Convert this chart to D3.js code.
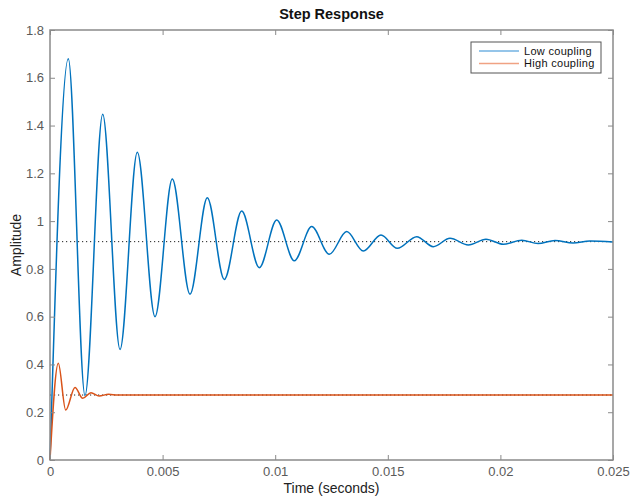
<!DOCTYPE html>
<html>
<head>
<meta charset="utf-8">
<script src="https://cdn.jsdelivr.net/npm/d3@7/dist/d3.min.js"></script>
<style>
  html, body { margin: 0; padding: 0; background: #fff; }
  svg { display: block; font-family: "Liberation Sans", Arial, Helvetica, sans-serif; }
</style>
</head>
<body>
<svg id="chart" width="630" height="496"></svg>
<script>
// ---- data ----
const lowT = [0, 0.000813, 0.001554, 0.00234, 0.00311, 0.003877, 0.004663, 0.005431, 0.006217,
  0.006985, 0.00774, 0.008512, 0.009294, 0.010067, 0.010848, 0.011621, 0.012402, 0.013175,
  0.013912, 0.014698, 0.015422, 0.016283, 0.01702, 0.017762, 0.018575, 0.01936, 0.02013,
  0.020946, 0.02167, 0.022425, 0.023224, 0.023979, 0.025];
const lowV = [0, 1.68, 0.27, 1.447, 0.463, 1.288, 0.600, 1.176, 0.694,
  1.098, 0.756, 1.042, 0.805, 1.005, 0.834, 0.977, 0.861, 0.956,
  0.875, 0.942, 0.886, 0.935, 0.893, 0.928, 0.900, 0.924, 0.903,
  0.920, 0.906, 0.919, 0.908, 0.917, 0.913];
const highT = [0, 0.000369, 0.000697, 0.00111, 0.001452, 0.00182, 0.00218, 0.0026, 0.003, 0.025];
const highV = [0, 0.405, 0.209, 0.304, 0.258, 0.282, 0.268, 0.275, 0.272, 0.272];
const steadyLow = 0.914;
const steadyHigh = 0.272;
const seriesNames = ["Low coupling", "High coupling"];
const seriesColors = ["#0072BD", "#D95319"];
const legendColors = ["#72B2E2", "#F0A283"];
const xTicks = [0, 0.005, 0.01, 0.015, 0.02, 0.025];
const xTickLabels = ["0", "0.005", "0.01", "0.015", "0.02", "0.025"];
const yTicks = [0, 0.2, 0.4, 0.6, 0.8, 1, 1.2, 1.4, 1.6, 1.8];
const yTickLabels = ["0", "0.2", "0.4", "0.6", "0.8", "1", "1.2", "1.4", "1.6", "1.8"];

// ---- layout ----
const svg = d3.select("#chart");
const L = 50, T = 30, W = 563, H = 430;
const x = d3.scaleLinear().domain([0, 0.025]).range([L, L + W]);
const y = d3.scaleLinear().domain([0, 1.8]).range([T + H, T]);
const axisColor = "#8a8a8a";
const textColor = "#5a5a5a";

// steady-state dotted lines
[steadyLow, steadyHigh].forEach(v => {
  svg.append("line")
    .attr("x1", x(0)).attr("x2", x(0.025))
    .attr("y1", y(v)).attr("y2", y(v))
    .attr("stroke", "#222").attr("stroke-width", 1)
    .attr("stroke-dasharray", "1.2,2.8");
});

const line = d3.line().curve(d3.curveMonotoneX);
const lowPts = lowT.map((t, i) => [x(t), y(lowV[i])]);
const highPts = highT.map((t, i) => [x(t), y(highV[i])]);

svg.append("path").attr("d", line(lowPts)).attr("fill", "none")
  .attr("stroke", seriesColors[0]).attr("stroke-width", 1.5);
svg.append("path").attr("d", line(highPts)).attr("fill", "none")
  .attr("stroke", seriesColors[1]).attr("stroke-width", 1.5);

// axes
function styleAxis(g) {
  g.select(".domain").remove();
  g.selectAll(".tick line").attr("stroke", axisColor).attr("stroke-width", 1);
  g.selectAll(".tick text").attr("fill", textColor).style("font-size", "13px")
    .style("font-family", "'Liberation Sans', Arial, Helvetica, sans-serif");
}
const fmtX = d => xTickLabels[xTicks.indexOf(d)];
const fmtY = d => yTickLabels[yTicks.indexOf(d)];

svg.append("g").attr("transform", `translate(0,${T + H})`)
  .call(d3.axisBottom(x).tickValues(xTicks).tickFormat(fmtX).tickSizeInner(-5).tickSizeOuter(0).tickPadding(7))
  .call(styleAxis);
svg.append("g").attr("transform", `translate(0,${T})`)
  .call(d3.axisTop(x).tickValues(xTicks).tickFormat("").tickSizeInner(-5).tickSizeOuter(0))
  .call(styleAxis);
svg.append("g").attr("transform", `translate(${L},0)`)
  .call(d3.axisLeft(y).tickValues(yTicks).tickFormat(fmtY).tickSizeInner(-5).tickSizeOuter(0).tickPadding(6))
  .call(styleAxis);
svg.append("g").attr("transform", `translate(${L + W},0)`)
  .call(d3.axisRight(y).tickValues(yTicks).tickFormat("").tickSizeInner(-5).tickSizeOuter(0))
  .call(styleAxis);

// frame
svg.append("rect").attr("x", L).attr("y", T).attr("width", W).attr("height", H)
  .attr("fill", "none").attr("stroke", axisColor).attr("stroke-width", 1.5);

// titles
svg.append("text").attr("x", L + W / 2).attr("y", 19).attr("text-anchor", "middle")
  .style("font-size", "14.5px").style("font-weight", "bold").attr("fill", "#111")
  .text("Step Response");
svg.append("text").attr("x", L + W / 2).attr("y", 493).attr("text-anchor", "middle")
  .style("font-size", "14px").attr("fill", "#222").text("Time (seconds)");
svg.append("text").attr("transform", `translate(21,${T + H / 2}) rotate(-90)`)
  .attr("text-anchor", "middle").style("font-size", "14px").attr("fill", "#222")
  .text("Amplitude");

// legend
const lg = svg.append("g");
lg.append("rect").attr("x", 471).attr("y", 42).attr("width", 130).attr("height", 31)
  .attr("fill", "#fff").attr("stroke", "#555").attr("stroke-width", 1);
seriesNames.forEach((n, i) => {
  const yy = 51 + i * 12.6;
  lg.append("line").attr("x1", 479).attr("x2", 519).attr("y1", yy).attr("y2", yy)
    .attr("stroke", legendColors[i]).attr("stroke-width", 1.5);
  lg.append("text").attr("x", 524).attr("y", yy).attr("dy", "0.35em")
    .style("font-size", "11px").style("letter-spacing", "0.3px")
    .attr("fill", "#111").text(n);
});
</script>
</body>
</html>
